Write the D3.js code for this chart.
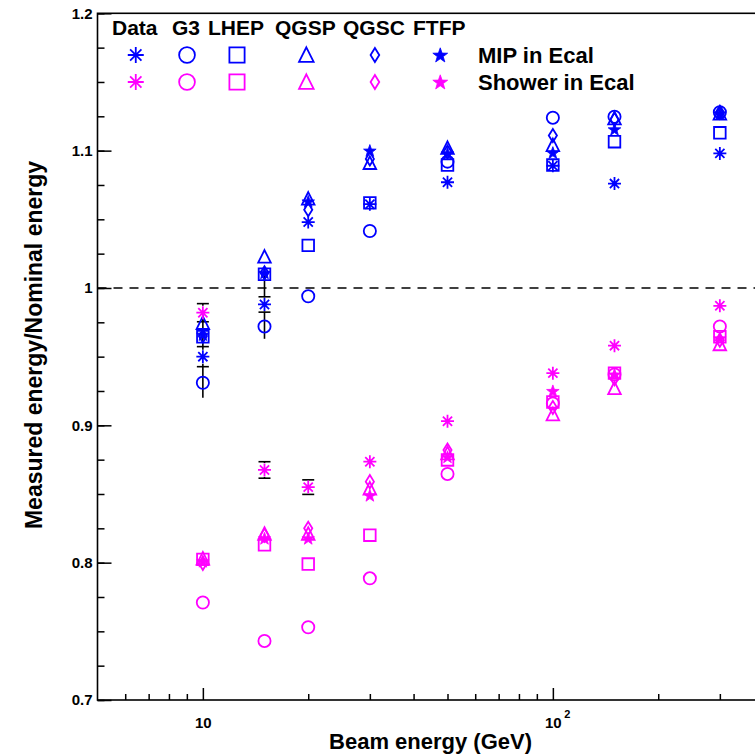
<!DOCTYPE html>
<html>
<head>
<meta charset="utf-8">
<script src="https://cdn.jsdelivr.net/npm/d3@7"></script>
<style>
  body { margin: 0; background: #fff; }
  svg { display: block; }
  text { font-family: "Liberation Sans", Arial, Helvetica, sans-serif; font-weight: bold; fill: #000; }
</style>
</head>
<body>
<svg id="chart" width="755" height="755"></svg>
<script>
// ---- data -------------------------------------------------------------
const energies = [10, 15, 20, 30, 50, 100, 150, 300];           // beam energy (GeV)

// MIP in Ecal
const dataMip      = [0.950, 0.988, 1.048, 1.061, 1.077, 1.089, 1.076, 1.098];
const dataMipStat  = [0.0073, 0.0056, 0, 0, 0, 0, 0, 0];
const dataMipTotal = [0.030, 0.025, 0, 0, 0, 0, 0, 0];
const g3Mip   = [0.931, 0.972, 0.994, 1.0415, 1.092, 1.124, 1.1247, 1.128];
const lhepMip = [0.9645, 1.010, 1.031, 1.062, 1.0895, 1.0895, 1.1065, 1.113];
const qgspMip = [0.9745, 1.0228, 1.065, 1.091, 1.102, 1.104, 1.1235, 1.127];
const qgscMip = [0.965, 1.011, 1.057, 1.094, 1.099, 1.111, 1.1227, 1.128];
const ftfpMip = [0.966, 1.011, 1.063, 1.100, 1.098, 1.0985, 1.1155, 1.127];

// Shower in Ecal
const dataShw      = [0.982, 0.8675, 0.855, 0.8735, 0.903, 0.938, 0.958, 0.987];
const dataShwStat  = [0.0066, 0.006, 0.0053, 0, 0, 0, 0, 0];
const g3Shw   = [0.771, 0.743, 0.753, 0.7886, 0.8646, 0.916, 0.937, 0.972];
const lhepShw = [0.8024, 0.813, 0.799, 0.820, 0.8748, 0.917, 0.938, 0.9645];
const qgspShw = [0.803, 0.821, 0.821, 0.854, 0.8796, 0.908, 0.927, 0.959];
const qgscShw = [0.7995, 0.820, 0.825, 0.859, 0.882, 0.913, 0.934, 0.962];
const ftfpShw = [0.801, 0.8177, 0.8177, 0.849, 0.877, 0.925, 0.937, 0.9633];

const headerLabels = ["Data", "G3", "LHEP", "QGSP", "QGSC", "FTFP"];
const seriesShapes = ["asterisk", "circle", "square", "triangle", "diamond", "star"];
const rowLabels = ["MIP in Ecal", "Shower in Ecal"];
const yTickLabels = ["0.7", "0.8", "0.9", "1", "1.1", "1.2"];
const xMajorTicks = [10, 100];

// ---- layout -----------------------------------------------------------
const BLUE = "#0000ff", MAGENTA = "#ff00ff";
const svg = d3.select("#chart");
const plotLeft = 97.5, plotTop = 13.3, plotBottom = 700;
const x = d3.scaleLog().domain([5, 500]).range([plotLeft, plotLeft + 700]);
const y = d3.scaleLinear().domain([0.7, 1.2]).range([plotBottom, plotTop]);

// ---- marker shapes ----------------------------------------------------
function markerPath(shape, r) {
  switch (shape) {
    case "asterisk": {
      const d = r * Math.SQRT1_2;
      return `M0,${-r}V${r}M${-r},0H${r}M${-d},${-d}L${d},${d}M${-d},${d}L${d},${-d}`;
    }
    case "circle":
      return `M${r},0A${r},${r} 0 1,1 ${-r},0A${r},${r} 0 1,1 ${r},0Z`;
    case "square":
      return `M${-r},${-r}H${r}V${r}H${-r}Z`;
    case "triangle":
      return `M0,${-r * 1.05}L${r},${r * 0.95}H${-r}Z`;
    case "diamond":
      return `M0,${-r}L${r * 0.62},0L0,${r}L${-r * 0.62},0Z`;
    case "star": {
      const p = [];
      for (let i = 0; i < 10; i++) {
        const a = -Math.PI / 2 + i * Math.PI / 5;
        const rr = i % 2 ? r * 0.4 : r;
        p.push([rr * Math.cos(a), rr * Math.sin(a) + r * 0.08]);
      }
      return "M" + p.map(q => q[0].toFixed(2) + "," + q[1].toFixed(2)).join("L") + "Z";
    }
  }
}
const pointSize  = { asterisk: 6.5, circle: 6.1, square: 5.8, triangle: 6.3, diamond: 6.6, star: 6.6 };
const legendSize = { asterisk: 8, circle: 7.9, square: 7.6, triangle: 7.3, diamond: 7, star: 7.8 };

function drawMarker(g, shape, cx, cy, r, color) {
  const filled = shape === "star";
  g.append("path")
    .attr("d", markerPath(shape, r))
    .attr("transform", `translate(${cx},${cy})`)
    .attr("fill", filled ? color : "none")
    .attr("stroke", color)
    .attr("stroke-width", filled ? 0.8 : 1.8)
    .attr("stroke-linejoin", "miter");
}

// ---- frame and axes ---------------------------------------------------
svg.append("rect")
  .attr("x", plotLeft).attr("y", plotTop)
  .attr("width", x.range()[1] - plotLeft).attr("height", plotBottom - plotTop)
  .attr("fill", "none").attr("stroke", "#000").attr("stroke-width", 1.6);

const yMinor = d3.range(0, 21).map(i => +(0.7 + i * 0.025).toFixed(3));
const yMajor = yTickLabels.map(Number);

svg.append("g").attr("transform", `translate(${plotLeft},0)`)
  .call(d3.axisLeft(y).tickValues(yMinor).tickSize(-7).tickSizeOuter(0).tickFormat(""))
  .call(g => g.select(".domain").remove());
svg.append("g").attr("class", "yaxis").attr("transform", `translate(${plotLeft},0)`)
  .call(d3.axisLeft(y).tickValues(yMajor).tickSize(-14).tickSizeOuter(0).tickPadding(5)
        .tickFormat((d, i) => yTickLabels[i]))
  .call(g => g.select(".domain").remove());

const xMinor = x.ticks().filter(v => v > 5 && !xMajorTicks.includes(v));
svg.append("g").attr("transform", `translate(0,${plotBottom})`)
  .call(d3.axisBottom(x).tickValues(xMinor).tickSize(-6).tickSizeOuter(0).tickFormat(""))
  .call(g => g.select(".domain").remove());
svg.append("g").attr("class", "xaxis").attr("transform", `translate(0,${plotBottom})`)
  .call(d3.axisBottom(x).tickValues(xMajorTicks).tickSize(-12).tickSizeOuter(0).tickPadding(17)
        .tickFormat(() => "10"))
  .call(g => g.select(".domain").remove());

svg.selectAll(".yaxis text, .xaxis text").attr("font-size", 15).attr("fill", "#000");
svg.selectAll("g line").attr("stroke", "#000").attr("stroke-width", 1.5);

// exponent on the 10^2 label
svg.selectAll(".xaxis .tick").filter(d => d === 100)
  .append("text")
  .attr("x", 11).attr("y", 17).attr("dy", "0.1em")
  .attr("font-size", 11).attr("text-anchor", "start").attr("fill", "#000")
  .text("2");

// axis titles
svg.append("text")
  .attr("x", 532).attr("y", 749)
  .attr("text-anchor", "end").attr("font-size", 22)
  .text("Beam energy (GeV)");
svg.append("text")
  .attr("transform", "translate(42,345) rotate(-90)")
  .attr("text-anchor", "middle").attr("font-size", 23)
  .text("Measured energy/Nominal energy");

// reference line at unity
svg.append("line")
  .attr("x1", plotLeft).attr("x2", x.range()[1])
  .attr("y1", y(1)).attr("y2", y(1))
  .attr("stroke", "#000").attr("stroke-width", 1.6)
  .attr("stroke-dasharray", "9,7");

// ---- error bars on the data points ------------------------------------
const eb = svg.append("g").attr("stroke", "#000").attr("stroke-width", 1.6);
function errorBars(vals, stat, total) {
  vals.forEach((v, i) => {
    const cx = x(energies[i]), cy = y(v);
    const e = Math.max(stat[i], total[i]);
    if (e <= 0) return;
    const gap = 7;
    const yt = y(v + e), yb = y(v - e);
    if (cy - gap > yt) eb.append("line").attr("x1", cx).attr("x2", cx).attr("y1", yt).attr("y2", cy - gap);
    if (yb > cy + gap) eb.append("line").attr("x1", cx).attr("x2", cx).attr("y1", cy + gap).attr("y2", yb);
    if (stat[i] > 0) {
      [v + stat[i], v - stat[i]].forEach(w => {
        eb.append("line").attr("x1", cx - 6).attr("x2", cx + 6).attr("y1", y(w)).attr("y2", y(w));
      });
    }
  });
}
errorBars(dataMip, dataMipStat, dataMipTotal);
errorBars(dataShw, dataShwStat, dataShwStat);

// ---- markers -----------------------------------------------------------
const mipSeries = [dataMip, g3Mip, lhepMip, qgspMip, qgscMip, ftfpMip];
const shwSeries = [dataShw, g3Shw, lhepShw, qgspShw, qgscShw, ftfpShw];
const marks = svg.append("g");
[[mipSeries, BLUE], [shwSeries, MAGENTA]].forEach(([group, color]) => {
  // models first, data on top
  [1, 2, 3, 4, 5, 0].forEach(k => {
    group[k].forEach((v, i) => {
      drawMarker(marks, seriesShapes[k], x(energies[i]), y(v), pointSize[seriesShapes[k]], color);
    });
  });
});

// ---- legend ------------------------------------------------------------
const headerX = [112, 172, 208, 275, 343, 413];
const leg = svg.append("g");
const rowY = [55, 82];
headerLabels.forEach((lab, k) => {
  const t = leg.append("text").attr("x", headerX[k]).attr("y", 35).attr("font-size", 21).text(lab);
  const w = t.node().getComputedTextLength();
  const cx = headerX[k] + w / 2 + 1;
  [BLUE, MAGENTA].forEach((c, r) => drawMarker(leg, seriesShapes[k], cx, rowY[r], legendSize[seriesShapes[k]], c));
});
rowLabels.forEach((lab, r) => {
  leg.append("text").attr("x", 478).attr("y", rowY[r] + 8.3).attr("font-size", 22).text(lab);
});
</script>
</body>
</html>
